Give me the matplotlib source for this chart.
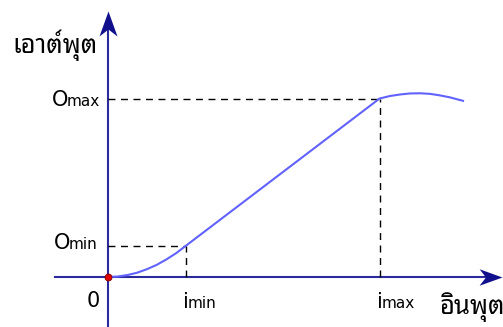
import matplotlib
matplotlib.use("Agg")
import matplotlib.pyplot as plt
from matplotlib.path import Path

# transfer curve points (input, output)
curve_in = [0.0, 0.25, 0.5, 0.75, 1.0, 1.25, 1.5, 1.75, 2.0,
            7.0, 7.27, 7.53, 7.78, 8.04, 8.30, 8.56, 8.81, 9.15]
curve_out = [0.0, 0.012, 0.05, 0.11, 0.2, 0.31, 0.45, 0.61, 0.8,
             4.6, 4.665, 4.704, 4.73, 4.735, 4.72, 4.68, 4.63, 4.54]

i_min, i_max = 2.0, 7.0
o_min, o_max = 0.8, 4.6

x_label = "อินพุต"
y_label = "เอาต์พุต"

thai = ["Noto Sans Thai Looped", "Sarabun", "Noto Sans Thai", "DejaVu Sans"]
axis_col = "#2a2a9c"
head_col = "#10108c"
curve_col = "#6262ff"

fig = plt.figure(figsize=(5.03, 3.27), dpi=100)
ax = fig.add_axes([0, 0, 1, 1])
ax.set_xlim(-2.784, 10.18)
ax.set_ylim(-1.289, 7.139)
ax.axis("off")

# axis lines
ax.plot([-1.37, 9.9], [0, 0], color=axis_col, lw=1.5)
ax.plot([0, 0], [-1.3, 6.6], color=axis_col, lw=1.5)

# barbed arrow heads, tip at the marker position
up_head = Path([(0, 0), (0.36, -1), (0, -0.72), (-0.36, -1), (0, 0)],
               [Path.MOVETO] + [Path.LINETO] * 3 + [Path.CLOSEPOLY])
right_head = Path([(0, 0), (-1, 0.36), (-0.72, 0), (-1, -0.36), (0, 0)],
                  [Path.MOVETO] + [Path.LINETO] * 3 + [Path.CLOSEPOLY])
ax.plot([0], [6.85], marker=up_head, ms=36, color=head_col, mew=0)
ax.plot([10.16], [0], marker=right_head, ms=33, color=head_col, mew=0)

# dashed guides
dash = dict(color="black", lw=1, ls=(0, (5, 4)))
ax.plot([0, i_min], [o_min, o_min], **dash)
ax.plot([i_min, i_min], [0, o_min], **dash)
ax.plot([0, i_max], [o_max, o_max], **dash)
ax.plot([i_max, i_max], [0, o_max], **dash)

# transfer curve
ax.plot(curve_in, curve_out, color=curve_col, lw=1.5, zorder=3)
ax.plot([0], [0], "o", ms=5, color="#dd0000", mec="#880000", mew=0.6, zorder=4)

def label(x, y, big, small, dx, dy):
    ax.annotate(big, (x, y), xytext=(dx, dy), textcoords="offset pixels",
                fontsize=15, ha="left", va="baseline")
    ax.annotate(small, (x, y), xytext=(dx + (15 if big == "O" else 5), dy),
                textcoords="offset pixels", fontsize=11, ha="left", va="baseline")

label(0, o_max, "O", "max", -56, -7)
label(0, o_min, "O", "min", -54, -3)
label(i_min, 0, "i", "min", -3, -31)
label(i_max, 0, "i", "max", -3, -31)
ax.annotate("0", (0, 0), xytext=(-21, -30), textcoords="offset pixels",
            fontsize=15, ha="left", va="baseline")

ax.annotate(x_label, (10.18, 0), xytext=(-63, -37), textcoords="offset pixels",
            fontsize=18.5, family=thai, weight="semibold", ha="left", va="baseline")
ax.annotate(y_label, (0, 6.85), xytext=(-96, -42), textcoords="offset pixels",
            fontsize=18.5, family=thai, weight="semibold", ha="left", va="baseline")

fig.savefig("out.png")
